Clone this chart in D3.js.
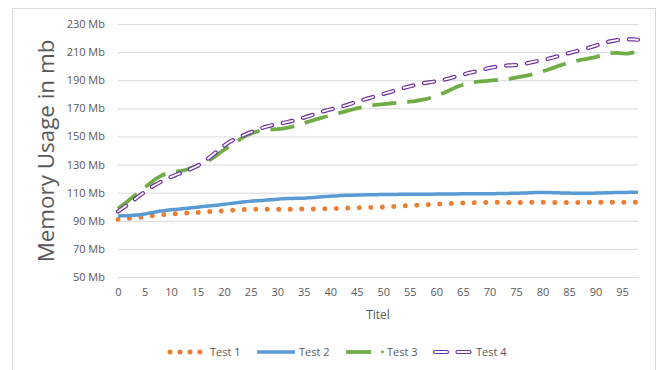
<!DOCTYPE html>
<html>
<head>
<meta charset="utf-8">
<script src="https://cdn.jsdelivr.net/npm/d3@7"></script>
<style>
  html, body { margin: 0; padding: 0; background: #fff; }
  svg { display: block; }
  text { font-family: "Open Sans", "Liberation Sans", sans-serif; fill: #595959; }
</style>
</head>
<body>
<svg id="chart" width="661" height="370"></svg>
<script>
// Run index 0..98 on the category axis
const runs = d3.range(0, 99);
const xTickLabels = d3.range(0, 100, 5);
const yTickValues = [50, 70, 90, 110, 130, 150, 170, 190, 210, 230];
const seriesNames = ["Test 1", "Test 2", "Test 3", "Test 4"];

// Memory usage in Mb per run
const test1 = [
  91.0, 91.3, 91.7, 92.1, 92.4, 92.8, 93.3, 93.8, 94.2, 94.5,
  94.8, 95.0, 95.3, 95.5, 95.7, 95.9, 96.2, 96.5, 96.7, 96.9,
  97.1, 97.4, 97.6, 97.8, 98.0, 98.1, 98.2, 98.2, 98.2, 98.2,
  98.2, 98.2, 98.2, 98.2, 98.3, 98.3, 98.3, 98.4, 98.5, 98.6,
  98.7, 98.8, 98.9, 99.0, 99.1, 99.2, 99.3, 99.4, 99.5, 99.6,
  99.8, 100.0, 100.2, 100.4, 100.6, 100.8, 101.0, 101.2, 101.4, 101.6,
  101.8, 102.0, 102.2, 102.4, 102.6, 102.7, 102.8, 102.9, 103.0, 103.0,
  103.0, 103.1, 103.1, 103.0, 103.0, 103.0, 103.0, 103.1, 103.1, 103.1,
  103.1, 103.0, 103.0, 103.0, 103.0, 103.0, 103.0, 103.1, 103.1, 103.1,
  103.1, 103.1, 103.1, 103.1, 103.1, 103.1, 103.2, 103.2, 103.2
];
const test2 = [
  93.4, 93.5, 93.7, 94.0, 94.3, 94.8, 95.5, 96.2, 96.9, 97.4,
  97.8, 98.1, 98.5, 98.9, 99.3, 99.7, 100.1, 100.5, 100.9, 101.3,
  101.7, 102.2, 102.7, 103.2, 103.6, 103.9, 104.2, 104.4, 104.7, 105.0,
  105.3, 105.6, 105.8, 105.9, 106.0, 106.1, 106.3, 106.6, 106.9, 107.2,
  107.5, 107.7, 107.9, 108.1, 108.2, 108.3, 108.4, 108.5, 108.6, 108.6,
  108.7, 108.7, 108.7, 108.8, 108.8, 108.8, 108.9, 108.9, 108.9, 108.9,
  109.0, 109.0, 109.0, 109.1, 109.1, 109.2, 109.2, 109.2, 109.3, 109.3,
  109.3, 109.3, 109.4, 109.4, 109.5, 109.5, 109.7, 109.8, 110.0, 110.1,
  110.2, 110.1, 110.0, 109.9, 109.7, 109.7, 109.6, 109.6, 109.6, 109.6,
  109.7, 109.8, 109.9, 110.0, 110.1, 110.1, 110.2, 110.3, 110.3
];
const test3 = [
  98.5, 101.5, 104.5, 107.5, 110.5, 113.5, 116.5, 119.5, 121.8, 123.5,
  124.5, 125.0, 125.6, 126.5, 127.8, 129.0, 130.5, 132.5, 135.0, 137.8,
  140.5, 143.0, 145.5, 148.0, 150.2, 152.0, 153.3, 154.2, 154.7, 155.0,
  155.2, 155.6, 156.2, 157.2, 158.3, 159.4, 160.6, 161.8, 162.9, 164.0,
  165.0, 166.0, 167.0, 168.0, 169.0, 170.0, 170.8, 171.5, 172.1, 172.6,
  173.0, 173.4, 173.7, 174.0, 174.3, 174.7, 175.2, 175.8, 176.6, 177.6,
  178.8, 180.3, 182.0, 183.8, 185.5, 186.8, 187.8, 188.5, 189.0, 189.4,
  189.7, 190.0, 190.3, 190.7, 191.2, 191.8, 192.5, 193.3, 194.2, 195.2,
  196.3, 197.5, 198.8, 200.1, 201.4, 202.5, 203.5, 204.3, 205.0, 205.7,
  206.5, 207.5, 208.5, 209.3, 209.5, 209.1, 208.9, 209.7, 210.8
];
const test4 = [
  96.5, 99.2, 102.0, 104.8, 107.7, 110.5, 113.2, 115.5, 117.6, 119.5,
  121.2, 122.8, 124.2, 125.7, 127.3, 129.2, 131.5, 134.3, 137.3, 140.5,
  143.5, 146.0, 148.1, 149.8, 151.4, 153.0, 154.5, 155.8, 157.0, 158.0,
  158.8, 159.5, 160.3, 161.2, 162.2, 163.3, 164.5, 165.8, 167.1, 168.2,
  169.2, 170.1, 171.1, 172.2, 173.4, 174.6, 175.8, 176.9, 178.0, 179.0,
  180.2, 181.3, 182.4, 183.6, 184.7, 185.7, 186.6, 187.4, 188.1, 188.7,
  189.3, 190.0, 190.9, 191.9, 193.0, 194.0, 195.0, 195.9, 196.9, 197.8,
  198.7, 199.4, 200.0, 200.4, 200.6, 200.8, 201.2, 201.9, 202.8, 203.6,
  204.3, 205.1, 206.1, 207.2, 208.3, 209.3, 210.3, 211.3, 212.3, 213.4,
  214.6, 215.8, 216.9, 217.8, 218.5, 218.9, 219.1, 219.0, 218.8
];

const svg = d3.select("#chart");

// chart frame
svg.append("rect")
  .attr("x", 12.5).attr("y", 8.5)
  .attr("width", 643).attr("height", 370)
  .attr("fill", "#fff").attr("stroke", "#d9d9d9").attr("stroke-width", 1);

const x = d3.scaleLinear().domain([0, 98]).range([118, 638]);
const y = d3.scaleLinear().domain([50, 230]).range([277, 24]);

// horizontal gridlines + value labels
const yAxis = d3.axisLeft(y)
  .tickValues(yTickValues)
  .tickSize(-(x.range()[1] - x.range()[0]))
  .tickPadding(13)
  .tickFormat(d => d + " Mb");
svg.append("g")
  .attr("transform", `translate(${x.range()[0]},0)`)
  .call(yAxis)
  .call(g => g.select(".domain").remove())
  .call(g => g.selectAll(".tick line").attr("stroke", "#d9d9d9").attr("stroke-width", 1))
  .call(g => g.selectAll(".tick text").attr("font-size", 11).style("fill", "#595959")
    .attr("font-family", "'Open Sans', sans-serif"));

// category axis labels
const xAxis = d3.axisBottom(x)
  .tickValues(xTickLabels)
  .tickSize(0)
  .tickPadding(11);
svg.append("g")
  .attr("transform", `translate(0,${y.range()[0]})`)
  .call(xAxis)
  .call(g => g.select(".domain").remove())
  .call(g => g.selectAll(".tick text").attr("font-size", 11).style("fill", "#595959")
    .attr("font-family", "'Open Sans', sans-serif"));

// axis titles
svg.append("text")
  .attr("x", 378).attr("y", 319)
  .attr("text-anchor", "middle")
  .attr("font-size", 12)
  .text("Titel");

svg.append("text")
  .attr("transform", "translate(54,151) rotate(-90)")
  .attr("text-anchor", "middle")
  .attr("font-size", 22.4)
  .text("Memory Usage in mb");

// series lines
const line = d3.line()
  .x((d, i) => x(runs[i]))
  .y(d => y(d))
  .curve(d3.curveMonotoneX);

const plot = svg.append("g");

plot.append("path").datum(test1)
  .attr("d", line).attr("fill", "none")
  .attr("stroke", "#ED7D31").attr("stroke-width", 5)
  .attr("stroke-linecap", "round")
  .attr("stroke-dasharray", "0.01 11.5");

plot.append("path").datum(test2)
  .attr("d", line).attr("fill", "none")
  .attr("stroke", "#5B9BD5").attr("stroke-width", 3.5)
  .attr("stroke-linejoin", "round");

plot.append("path").datum(test3)
  .attr("d", line).attr("fill", "none")
  .attr("stroke", "#70AD47").attr("stroke-width", 3.8)
  .attr("stroke-dasharray", "24 11");

// Test 4: outlined dashes (purple dash with white core)
plot.append("path").datum(test4)
  .attr("d", line).attr("fill", "none")
  .attr("stroke", "#7030A0").attr("stroke-width", 4.2)
  .attr("stroke-linecap", "round")
  .attr("stroke-dasharray", "10 11");
plot.append("path").datum(test4)
  .attr("d", line).attr("fill", "none")
  .attr("stroke", "#fff").attr("stroke-width", 1.8)
  .attr("stroke-linecap", "round")
  .attr("stroke-dasharray", "10 11");

// legend
const legendY = 352;
const legendStarts = [167, 257, 346, 433];
const symW = 38;
const legend = svg.append("g");
seriesNames.forEach((name, i) => {
  const g = legend.append("g").attr("transform", `translate(${legendStarts[i]},${legendY})`);
  if (i === 0) {
    g.append("line").attr("x1", 3).attr("x2", 36).attr("y1", 0).attr("y2", 0)
      .attr("stroke", "#ED7D31").attr("stroke-width", 5)
      .attr("stroke-linecap", "round").attr("stroke-dasharray", "0.01 10");
  } else if (i === 1) {
    g.append("line").attr("x1", 0).attr("x2", symW).attr("y1", 0).attr("y2", 0)
      .attr("stroke", "#5B9BD5").attr("stroke-width", 3.5);
  } else if (i === 2) {
    g.append("line").attr("x1", 0).attr("x2", 25).attr("y1", 0).attr("y2", 0)
      .attr("stroke", "#70AD47").attr("stroke-width", 3.8);
    g.append("circle").attr("cx", 36.5).attr("cy", 0).attr("r", 1.4).attr("fill", "#70AD47");
  } else {
    [[2, 14], [24.5, 36.5]].forEach(([a, b]) => {
      g.append("line").attr("x1", a).attr("x2", b).attr("y1", 0).attr("y2", 0)
        .attr("stroke", "#7030A0").attr("stroke-width", 4.2).attr("stroke-linecap", "round");
      g.append("line").attr("x1", a).attr("x2", b).attr("y1", 0).attr("y2", 0)
        .attr("stroke", "#fff").attr("stroke-width", 1.8).attr("stroke-linecap", "round");
    });
  }
  g.append("text")
    .attr("x", i === 0 ? 43 : (i === 3 ? 43 : (i === 2 ? 41 : 42)))
    .attr("y", 0).attr("dy", "0.36em")
    .attr("font-size", 11)
    .text(name);
});
</script>
</body>
</html>
